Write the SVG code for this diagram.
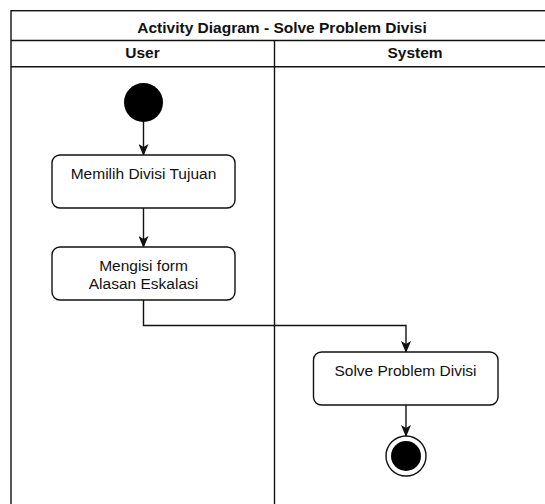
<svg xmlns="http://www.w3.org/2000/svg" width="545" height="504" viewBox="0 0 545 504">
  <defs>
    <marker id="arrow" viewBox="0 0 12 10" refX="11" refY="5" markerWidth="12" markerHeight="10" markerUnits="userSpaceOnUse" orient="auto">
      <path d="M0,0 L12,5 L0,10 L3,5 Z" fill="#111"/>
    </marker>
    <style>
      .frame { fill: #ffffff; stroke: #111; stroke-width: 1.4; }
      .lane { fill: none; stroke: #111; stroke-width: 1.4; }
      .head { font-family: "Liberation Sans", Arial, sans-serif; font-size: 15.5px; font-weight: bold; fill: #111; text-anchor: middle; }
      .action { fill: #ffffff; stroke: #111; stroke-width: 1.4; }
      .label { font-family: "Liberation Sans", Arial, sans-serif; font-size: 15.5px; fill: #111; text-anchor: middle; }
      .flow { fill: none; stroke: #111; stroke-width: 1.4; marker-end: url(#arrow); }
      .solid { fill: #000; stroke: none; }
    </style>
  </defs>

  <rect width="545" height="504" fill="#ffffff"/>

  <!-- swimlane pool with title and two lanes -->
  <g id="pool">
    <rect class="frame" x="11" y="10.7" width="545" height="520"/>
    <line class="lane" x1="11" y1="40.5" x2="556" y2="40.5"/>
    <line class="lane" x1="11" y1="66.7" x2="556" y2="66.7"/>
    <line class="lane" x1="274.5" y1="40.5" x2="274.5" y2="531"/>
    <text class="head" x="282" y="32.5">Activity Diagram - Solve Problem Divisi</text>
    <text class="head" x="142.5" y="58">User</text>
    <text class="head" x="415" y="58">System</text>
  </g>

  <!-- connectors -->
  <g id="connectors">
    <path class="flow" d="M143.5,122 L143.5,155"/>
    <path class="flow" d="M143.5,208 L143.5,247"/>
    <path class="flow" d="M143.5,300 L143.5,325.5 L406,325.5 L406,352"/>
    <path class="flow" d="M406,405 L406,436"/>
  </g>

  <g id="start">
    <circle class="solid" cx="143.5" cy="102.5" r="19.5"/>
  </g>

  <g id="memilih-divisi">
    <rect class="action" x="52" y="155" width="183" height="53" rx="8"/>
    <text class="label" x="143.5" y="178.5">Memilih Divisi Tujuan</text>
  </g>

  <g id="mengisi-form">
    <rect class="action" x="52" y="247" width="183" height="53" rx="8"/>
    <text class="label" x="143.5" y="270.5">Mengisi form</text>
    <text class="label" x="143.5" y="289">Alasan Eskalasi</text>
  </g>

  <g id="solve-problem">
    <rect class="action" x="313.5" y="352" width="184.5" height="53" rx="8"/>
    <text class="label" x="405.5" y="376">Solve Problem Divisi</text>
  </g>

  <g id="end">
    <circle cx="406" cy="456" r="20" fill="#ffffff" stroke="#111" stroke-width="1.4"/>
    <circle class="solid" cx="406" cy="456" r="15"/>
  </g>
</svg>
